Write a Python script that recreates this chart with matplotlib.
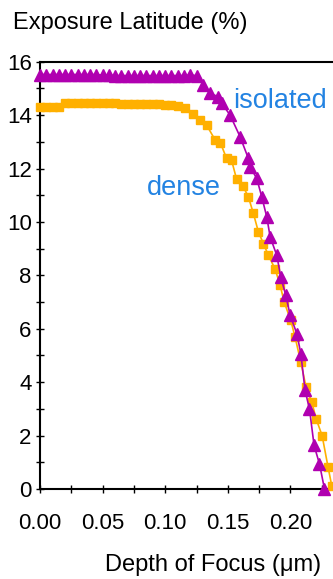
import matplotlib
matplotlib.use("Agg")
import matplotlib.pyplot as plt
from matplotlib.ticker import MultipleLocator

plt.rcParams["font.family"] = ["Liberation Sans", "DejaVu Sans"]

# isolated line (purple triangles)
isolated_dof = [
    0.000, 0.005, 0.010, 0.015, 0.020, 0.025, 0.030, 0.035, 0.040, 0.045,
    0.050, 0.055, 0.060, 0.065, 0.070, 0.075, 0.080, 0.085, 0.090, 0.095,
    0.100, 0.105, 0.110, 0.115, 0.120, 0.125,
    0.1305, 0.1358, 0.1425, 0.1452, 0.1518, 0.1598, 0.1664, 0.1678, 0.1731,
    0.1771, 0.1811, 0.1838, 0.1891, 0.1923, 0.1963, 0.1998, 0.2051, 0.2083,
    0.2117, 0.2152, 0.2189, 0.2232, 0.2272,
]
isolated_el = [
    15.52, 15.52, 15.52, 15.52, 15.52, 15.52, 15.52, 15.52, 15.52, 15.52,
    15.50, 15.50, 15.48, 15.48, 15.48, 15.48, 15.48, 15.48, 15.48, 15.48,
    15.48, 15.48, 15.48, 15.48, 15.50, 15.48,
    15.13, 14.81, 14.69, 14.44, 14.00, 13.19, 12.38, 12.06, 11.63,
    10.94, 10.19, 9.44, 8.75, 7.94, 7.25, 6.50, 5.82, 5.07,
    3.69, 3.00, 1.63, 0.94, 0.00,
]

# dense line (orange squares)
dense_dof = [
    0.000, 0.005, 0.010, 0.015, 0.020, 0.025, 0.030, 0.035, 0.040, 0.045,
    0.050, 0.055, 0.060, 0.065, 0.070, 0.075, 0.080, 0.085, 0.090, 0.095,
    0.100, 0.105, 0.110,
    0.1160, 0.1225, 0.1280, 0.1330, 0.1400, 0.1440, 0.1490, 0.1530, 0.1570,
    0.1620, 0.1664, 0.1704, 0.1744, 0.1784, 0.1824, 0.1878, 0.1918, 0.1950,
    0.2003, 0.2037, 0.2083, 0.2125, 0.2171, 0.2205, 0.2253, 0.2301, 0.2331,
]
dense_el = [
    14.31, 14.31, 14.31, 14.31, 14.44, 14.45, 14.45, 14.45, 14.45, 14.45,
    14.44, 14.44, 14.44, 14.43, 14.42, 14.42, 14.42, 14.42, 14.42, 14.40,
    14.38, 14.37, 14.35,
    14.25, 14.06, 13.81, 13.63, 13.06, 12.97, 12.38, 12.31, 11.60,
    11.35, 10.94, 10.32, 9.63, 9.19, 8.75, 8.23, 7.63, 7.00,
    6.31, 5.69, 4.75, 3.81, 3.25, 2.63, 2.00, 0.81, 0.10,
]

PURPLE = "#B000B0"
ORANGE = "#FFB000"
BLUE = "#2383E2"

fig = plt.figure(figsize=(3.33, 5.79), dpi=100)
ax = fig.add_axes([40 / 333, 90 / 579, 1 - 40 / 333, (489 - 61.7) / 579])

ax.plot(dense_dof, dense_el, color=ORANGE, lw=1.2, marker="s", ms=5.5,
        mec=ORANGE, clip_on=False, zorder=3)
ax.plot(isolated_dof, isolated_el, color=PURPLE, lw=1.2, marker="^", ms=8,
        mec=PURPLE, clip_on=False, zorder=4)

ax.text(0.1545, 14.25, "isolated", color=BLUE, fontsize=19.5,
        ha="left", va="baseline")
ax.text(0.0853, 11.0, "dense", color=BLUE, fontsize=19.5,
        ha="left", va="baseline")

ax.set_xlim(0, 0.234)
ax.set_ylim(0, 16)
ax.xaxis.set_major_locator(MultipleLocator(0.05))
ax.xaxis.set_minor_locator(MultipleLocator(0.025))
ax.yaxis.set_major_locator(MultipleLocator(2))
ax.yaxis.set_minor_locator(MultipleLocator(1))
ax.xaxis.set_major_formatter(plt.FormatStrFormatter("%.2f"))

ax.tick_params(axis="both", which="both", direction="inout", length=6,
               width=1, colors="black", labelsize=16)
ax.tick_params(axis="y", pad=3)
ax.tick_params(axis="x", pad=14)

for side in ("left", "bottom", "top"):
    ax.spines[side].set_linewidth(1.5)
ax.spines["right"].set_visible(False)

fig.text(13 / 333, 1 - 29.5 / 579, "Exposure Latitude (%)", fontsize=17,
         ha="left", va="baseline")
fig.text(105 / 333, 1 - 571.5 / 579, "Depth of Focus (\u03bcm)", fontsize=17,
         ha="left", va="baseline")

fig.savefig("out.png", dpi=100)
